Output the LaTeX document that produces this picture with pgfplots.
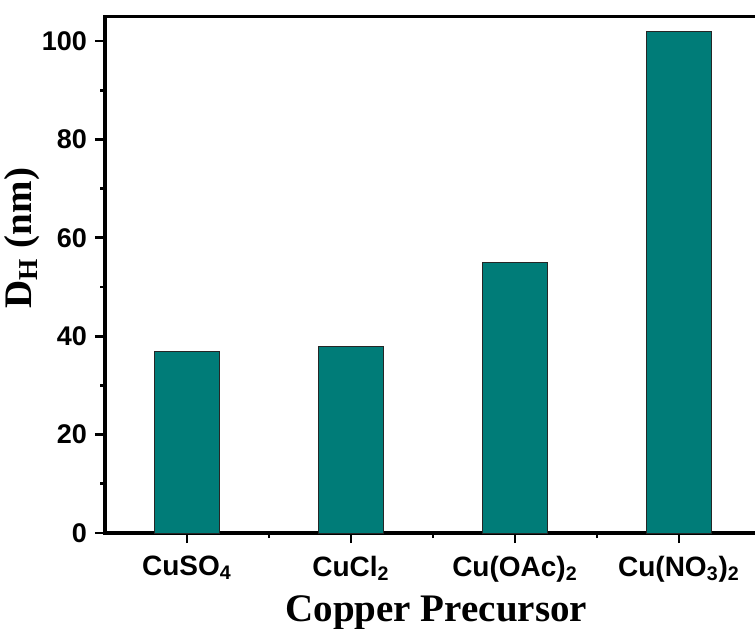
\documentclass[border=0pt]{standalone}
\usepackage{fontspec}
\setmainfont{Liberation Serif}
\newfontfamily\arialfont{Liberation Sans}
\usepackage{pgfplots}
\pgfplotsset{compat=1.18}
\definecolor{barteal}{RGB}{0,124,120}

\begin{document}
\begin{tikzpicture}
\begin{axis}[
  name=ax,
  scale only axis,
  width=328pt, height=258.25pt,
  xmin=-0.5, xmax=3.5,
  ymin=0, ymax=105,
  axis line style={line width=1.9pt},
  tick style={line width=1.4pt, black},
  tick align=outside,
  xtick pos=bottom, ytick pos=left,
  major tick length=5pt,
  minor tick length=2.5pt,
  xtick={0,1,2,3},
  xticklabels={CuSO\textsubscript{4}, CuCl\textsubscript{2}, Cu(OAc)\textsubscript{2}, Cu(NO\textsubscript{3})\textsubscript{2}},
  minor xtick={0.5,1.5,2.5},
  ytick={0,20,40,60,80,100},
  minor ytick={10,30,50,70,90},
  /pgf/number format/assume math mode=true,
  tick label style={font=\arialfont\bfseries\fontsize{13.5}{15}\selectfont},
  xticklabel style={yshift=-3pt, font=\arialfont\bfseries\fontsize{14}{16}\selectfont},
  yticklabel style={xshift=-0.5pt},
  xlabel={Copper Precursor},
  ylabel={D\textsubscript{H} (nm)},
  label style={font=\bfseries\fontsize{19.5}{22}\selectfont},
  xlabel style={at={(axis description cs:0.505,-0.172)}, anchor=base},
  ylabel style={at={(axis description cs:-0.126,0.571)}, anchor=center, rotate=0},
  ybar, bar width=0.4,
  bar shift=0pt,
]
\addplot[fill=barteal, draw=black!85, line width=0.5pt] coordinates {
  (0,37) (1,38) (2,55) (3,102)
};
\end{axis}
\pgfresetboundingbox
\useasboundingbox ([shift={(-52.5pt,-47.5pt)}]ax.south west) rectangle ([shift={(325pt,266.5pt)}]ax.south west);
\end{tikzpicture}
\end{document}
